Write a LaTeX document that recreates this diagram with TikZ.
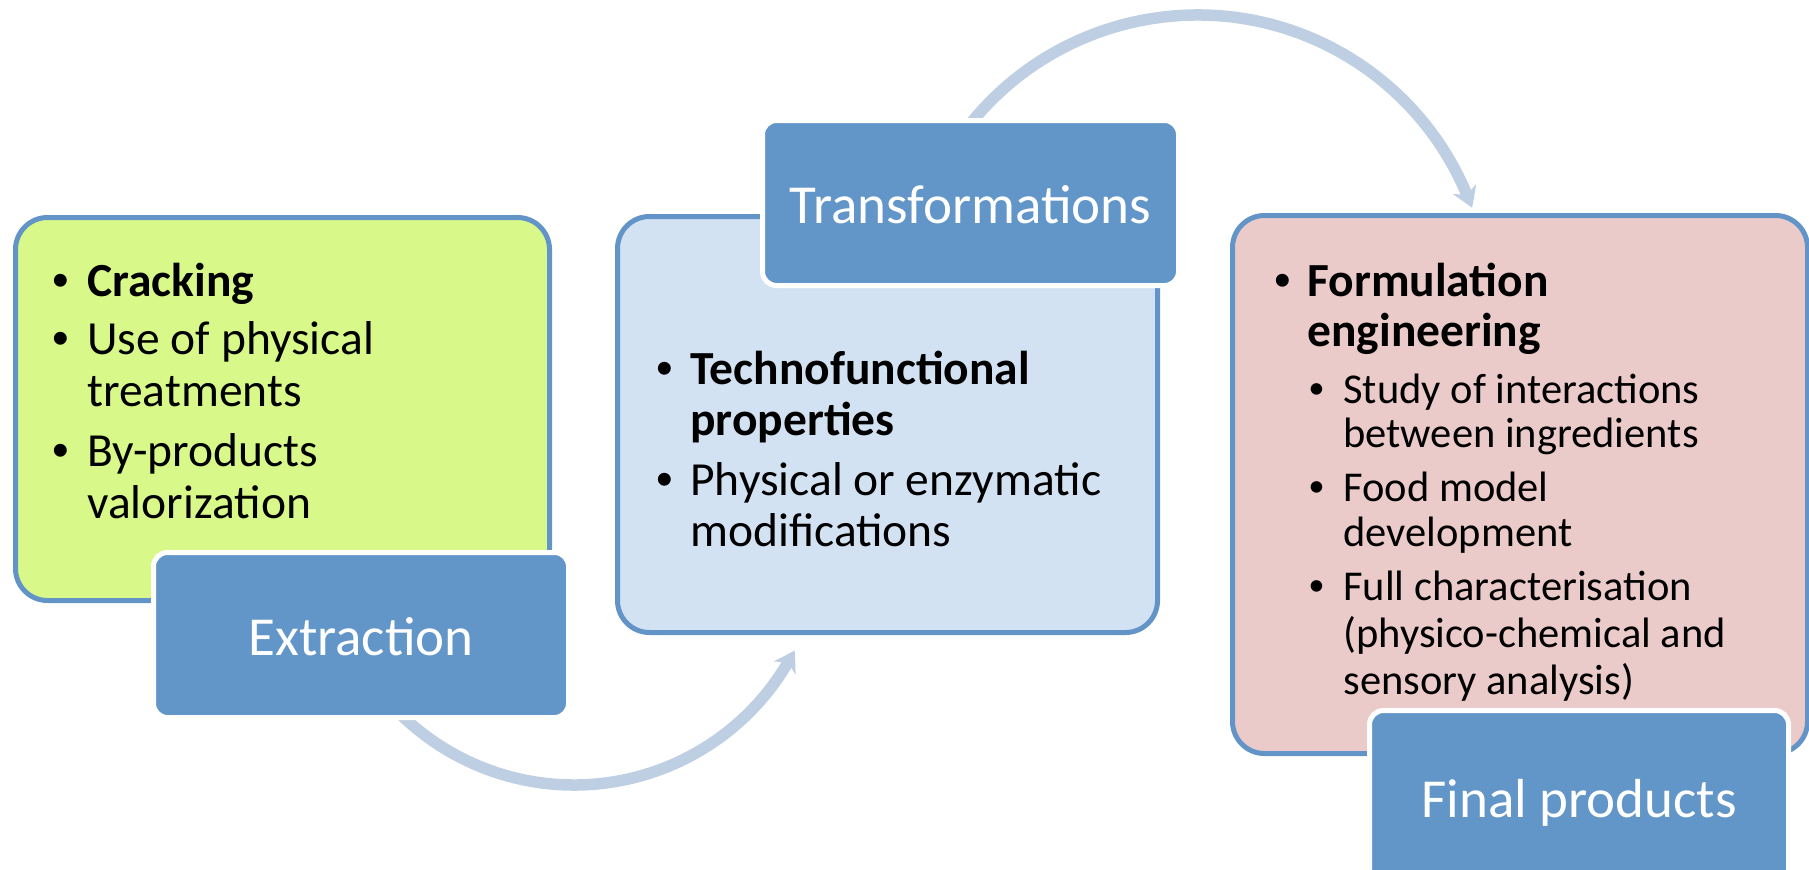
\documentclass[tikz,border=0pt]{standalone}
\usepackage{fontspec}
\setmainfont{Carlito}
\newfontfamily\bulletfont{Liberation Sans}
\usetikzlibrary{arrows.meta,bending}

\definecolor{frameblue}{RGB}{98,148,200}
\definecolor{titleblue}{RGB}{98,149,200}
\definecolor{greenfill}{RGB}{216,249,137}
\definecolor{bluefill}{RGB}{211,226,242}
\definecolor{pinkfill}{RGB}{235,203,202}
\definecolor{arcblue}{RGB}{190,206,227}

\tikzset{
  panel/.style={draw=frameblue, line width=2.5pt, rounded corners=16pt, inner sep=0pt},
  titlebox/.style={fill=titleblue, draw=white, line width=2.5pt, rounded corners=7pt,
    inner sep=0pt, text=white, font=\fontsize{27.5}{33}\selectfont,
    text height=20pt, text depth=0pt},
  mainline/.style={anchor=base west, inner sep=0pt, font=\fontsize{23.75}{28}\selectfont},
  subline/.style={anchor=base west, inner sep=0pt, font=\fontsize{21.25}{25}\selectfont},
  mainbullet/.style={anchor=base, inner sep=0pt, font=\bulletfont\fontsize{23.75}{28}\selectfont},
  subbullet/.style={anchor=base, inner sep=0pt, font=\bulletfont\fontsize{21.25}{25}\selectfont},
  flow/.style={draw=arcblue, line width=5.75pt,
    -{Stealth[length=10pt, width=12.5pt, inset=3pt, bend]}},
}

\begin{document}
\begin{tikzpicture}[x=0.5pt, y=-0.5pt]
\useasboundingbox (0,0) rectangle (1809,869);

% curved connectors (drawn first, their tails hide under the title boxes)
\coordinate (botc) at (574,537);
\coordinate (topc) at (1197.6,306.6);
\draw[flow] (botc) ++(222:124pt) coordinate (bots)
  arc[start angle=222, end angle=332.8, radius=124pt] coordinate (bote);
\draw[flow] (topc) ++(146:145.8pt) coordinate (tops)
  arc[start angle=146, end angle=19.8, radius=145.8pt] coordinate (tope);

% content panels
\node[panel, fill=greenfill, minimum width=267pt, minimum height=191.5pt] (extpanel) at (282.5,409) {};
\node[panel, fill=bluefill, minimum width=270pt, minimum height=208pt] (trpanel) at (887.5,424.5) {};
\node[panel, fill=pinkfill, minimum width=287.5pt, minimum height=269pt] (fppanel) at (1520,484.5) {};

% title boxes
\node[titlebox, minimum width=207.5pt, minimum height=82.5pt] (extraction) at (361,635) {Extraction};
\node[titlebox, minimum width=208pt, minimum height=82.5pt] (transformations) at (970.5,203) {Transformations};
\node[titlebox, minimum width=209.5pt, minimum height=86.5pt] (finalproducts) at (1579,797) {Final products};

% Extraction panel text
\node[mainbullet] (gb1) at (61,296) {•};
\node[mainline] (g1) at (87,296) {\textbf{Cracking}};
\node[mainbullet] (gb2) at (61,354) {•};
\node[mainline] (g2) at (87,354) {Use of physical};
\node[mainline] (g3) at (87,406) {treatments};
\node[mainbullet] (gb3) at (61,466) {•};
\node[mainline] (g4) at (87,466) {By-products};
\node[mainline] (g5) at (87,518) {valorization};

% Transformations panel text
\node[mainbullet] (bb1) at (665,384) {•};
\node[mainline] (b1) at (690,384) {\textbf{Technofunctional}};
\node[mainline] (b2) at (690,435) {\textbf{properties}};
\node[mainbullet] (bb2) at (665,495) {•};
\node[mainline] (b3) at (690,495) {Physical or enzymatic};
\node[mainline] (b4) at (690,546) {modifications};

% Final products panel text
\node[mainbullet] (pb1) at (1283,296) {•};
\node[mainline] (p1) at (1307,296) {\textbf{Formulation}};
\node[mainline] (p2) at (1307,346) {\textbf{engineering}};
\node[subbullet] (pb2) at (1317,403) {•};
\node[subline] (p3) at (1343,403) {Study of interactions};
\node[subline] (p4) at (1343,447) {between ingredients};
\node[subbullet] (pb3) at (1317,501) {•};
\node[subline] (p5) at (1343,501) {Food model};
\node[subline] (p6) at (1343,546) {development};
\node[subbullet] (pb4) at (1317,600) {•};
\node[subline] (p7) at (1343,600) {Full characterisation};
\node[subline] (p8) at (1343,647) {(physico-chemical and};
\node[subline] (p9) at (1343,694) {sensory analysis)};
\end{tikzpicture}
\end{document}
